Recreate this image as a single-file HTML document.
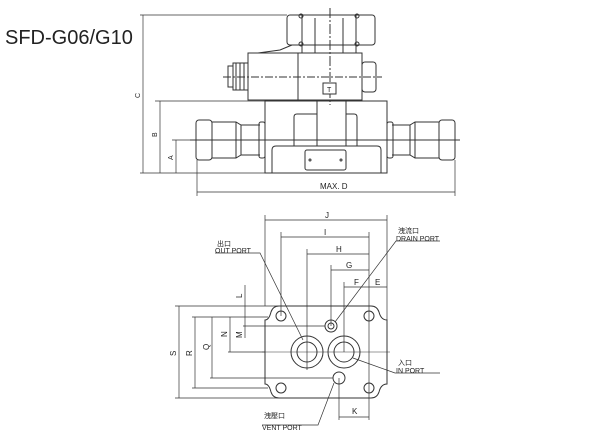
<!DOCTYPE html>
<html><head><meta charset="utf-8"><style>
html,body{margin:0;padding:0;background:#fff;width:600px;height:440px;overflow:hidden}
svg{display:block}
text{font-family:"Liberation Sans","Noto Sans CJK SC",sans-serif;fill:#222}
</style></head><body>
<svg width="600" height="440" viewBox="0 0 600 440" xmlns="http://www.w3.org/2000/svg">
<text x="5" y="44" font-size="20">SFD-G06/G10</text>
<g fill="none" stroke="#333" stroke-width="1">
<rect x="287" y="15" width="88" height="30" rx="3"/>
<line x1="302" y1="15" x2="302" y2="53"/><line x1="315" y1="18" x2="315" y2="53"/>
<line x1="343" y1="18" x2="343" y2="53"/><line x1="356" y1="15" x2="356" y2="53"/>
<circle cx="301" cy="16" r="2"/><circle cx="357" cy="16" r="2"/>
<circle cx="301" cy="44" r="2"/><circle cx="357" cy="44" r="2"/>
<path d="M258 53 L280 50 L292 45"/>
<rect x="248" y="53" width="114" height="47"/>
<line x1="298" y1="53" x2="298" y2="100"/>
<rect x="233" y="63" width="15" height="27"/>
<rect x="228" y="66" width="5" height="21"/>
<line x1="236" y1="63" x2="236" y2="90"/><line x1="240" y1="63" x2="240" y2="90"/><line x1="244" y1="63" x2="244" y2="90"/>
<rect x="362" y="62" width="14" height="30" rx="3"/>
<line x1="223" y1="77" x2="382" y2="77" stroke-dasharray="8,2,2,2"/>
<line x1="330" y1="8" x2="330" y2="105" stroke-dasharray="10,2,2,2"/>
<rect x="323" y="83" width="13" height="11" fill="#fff"/>
<rect x="265" y="101" width="122" height="72"/>
<line x1="317" y1="101" x2="317" y2="146"/><line x1="346" y1="101" x2="346" y2="146"/>
<path d="M294 146 V117 q0 -3 3 -3 H317 M346 114 H354 q3 0 3 3 V146"/>
<path d="M272 173 V150 q0 -4 4 -4 H377 q4 0 4 4 V173"/>
<rect x="305" y="150" width="41" height="20" rx="2"/>
<circle cx="310" cy="160" r="1"/><circle cx="341" cy="160" r="1"/>
<rect x="196" y="120" width="16" height="40" rx="3"/>
<path d="M212 122 H236 L241 125 H260 M212 158 H236 L241 155 H260"/>
<line x1="236" y1="122" x2="236" y2="158"/><line x1="241" y1="125" x2="241" y2="155"/>
<rect x="259" y="122" width="6" height="36" rx="2"/>
<rect x="439" y="120" width="16" height="40" rx="3"/>
<path d="M439 122 H415 L410 125 H392 M439 158 H415 L410 155 H392"/>
<line x1="415" y1="122" x2="415" y2="158"/><line x1="410" y1="125" x2="410" y2="155"/>
<rect x="387" y="122" width="6" height="36" rx="2"/>
<line x1="190" y1="140" x2="460" y2="140"/>
<line x1="140" y1="15" x2="287" y2="15" stroke-width="0.7"/>
<line x1="143" y1="15" x2="143" y2="173" stroke-width="0.7"/>
<line x1="140" y1="173" x2="265" y2="173" stroke-width="0.7"/>
<line x1="155" y1="101" x2="265" y2="101" stroke-width="0.7"/>
<line x1="160" y1="101" x2="160" y2="173" stroke-width="0.7"/>
<line x1="172" y1="140" x2="190" y2="140" stroke-width="0.7"/>
<line x1="176" y1="140" x2="176" y2="173" stroke-width="0.7"/>
<line x1="197" y1="160" x2="197" y2="196" stroke-width="0.7"/>
<line x1="455" y1="160" x2="455" y2="196" stroke-width="0.7"/>
<line x1="197" y1="192" x2="455" y2="192" stroke-width="0.7"/>
<path d="M279 306 H371 q6 0 8 6 q2 8 8 8 V384 q-6 0 -8 8 q-2 6 -8 6 H279 q-6 0 -8 -6 q-2 -8 -6 -8 V320 q4 0 6 -8 q2 -6 8 -6 Z"/>
<circle cx="281" cy="316" r="5"/><circle cx="369" cy="316" r="5"/>
<circle cx="281" cy="388" r="5"/><circle cx="369" cy="388" r="5"/>
<circle cx="331" cy="326" r="6"/><circle cx="331" cy="326" r="3"/>
<circle cx="307" cy="352" r="16"/><circle cx="307" cy="352" r="10"/>
<circle cx="344" cy="352" r="16"/><circle cx="344" cy="352" r="10"/>
<circle cx="339" cy="378" r="6"/>
<line x1="262" y1="352" x2="390" y2="352" stroke-width="0.6"/>
<g stroke-width="0.7">
<line x1="265" y1="215" x2="265" y2="306"/><line x1="387" y1="215" x2="387" y2="320"/>
<line x1="281" y1="232" x2="281" y2="316"/><line x1="369" y1="232" x2="369" y2="420"/>
<line x1="307" y1="249" x2="307" y2="370"/><line x1="331" y1="265" x2="331" y2="326"/>
<line x1="344" y1="282" x2="344" y2="352"/><line x1="339" y1="378" x2="339" y2="420"/>
<line x1="265" y1="220" x2="387" y2="220"/>
<line x1="281" y1="237" x2="369" y2="237"/>
<line x1="307" y1="254" x2="369" y2="254"/>
<line x1="331" y1="270" x2="369" y2="270"/>
<line x1="344" y1="287" x2="387" y2="287"/>
<line x1="339" y1="417" x2="369" y2="417"/>
<line x1="175" y1="306" x2="279" y2="306"/>
<line x1="175" y1="398" x2="279" y2="398"/>
<line x1="179" y1="306" x2="179" y2="398"/>
<line x1="192" y1="317" x2="268" y2="317"/>
<line x1="192" y1="388" x2="268" y2="388"/>
<line x1="195" y1="317" x2="195" y2="388"/>
<line x1="210" y1="378" x2="333" y2="378"/>
<line x1="212" y1="317" x2="212" y2="378"/>
<line x1="228" y1="352" x2="265" y2="352"/>
<line x1="230" y1="317" x2="230" y2="352"/>
<line x1="243" y1="326" x2="325" y2="326"/>
<line x1="245" y1="285" x2="245" y2="338"/>
<path d="M215 253 H260 L303 340"/>
<path d="M440 241 H396 L335 322"/>
<path d="M440 373 H395 L353 358"/>
<path d="M262 425 H318 L334 383"/>
</g>
</g>
<g font-size="7">
<text x="320" y="189" font-size="8">MAX. D</text>
<text x="140" y="98" font-size="7" transform="rotate(-90 140 98)">C</text>
<text x="157" y="137" transform="rotate(-90 157 137)">B</text>
<text x="173" y="160" transform="rotate(-90 173 160)">A</text>
<text x="325" y="218" font-size="8">J</text>
<text x="324" y="235" font-size="8">I</text>
<text x="336" y="252" font-size="8">H</text>
<text x="346" y="268" font-size="8">G</text>
<text x="354" y="285" font-size="8">F</text>
<text x="375" y="285" font-size="8">E</text>
<text x="352" y="414" font-size="8">K</text>
<text x="176" y="356" transform="rotate(-90 176 356)" font-size="8">S</text>
<text x="192" y="356" transform="rotate(-90 192 356)" font-size="8">R</text>
<text x="209" y="350" transform="rotate(-90 209 350)" font-size="8">Q</text>
<text x="227" y="337" transform="rotate(-90 227 337)" font-size="8">N</text>
<text x="242" y="338" transform="rotate(-90 242 338)" font-size="8">M</text>
<text x="242" y="298" transform="rotate(-90 242 298)" font-size="8">L</text>
<text x="217" y="246">出口</text>
<text x="215" y="253">OUT PORT</text>
<text x="398" y="233">洩流口</text>
<text x="396" y="241">DRAIN PORT</text>
<text x="398" y="365">入口</text>
<text x="396" y="373">IN PORT</text>
<text x="264" y="418">洩壓口</text>
<text x="262" y="430">VENT PORT</text>
<text x="327" y="92" font-size="7">T</text>
</g>
</svg>
</body></html>
